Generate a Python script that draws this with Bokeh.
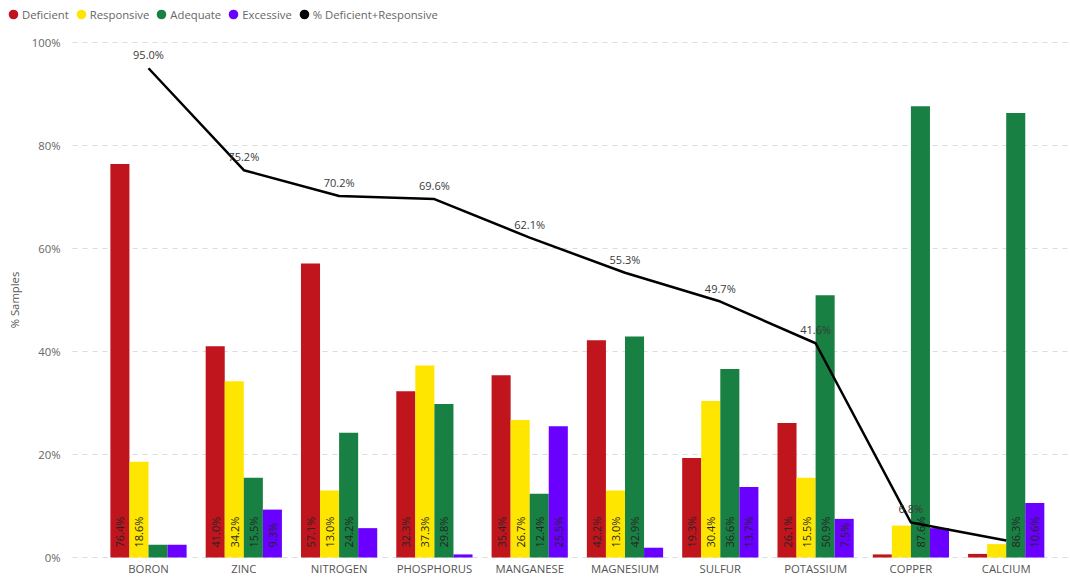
from bokeh.plotting import figure
from bokeh.models import ColumnDataSource, Range1d, Legend, LegendItem
from bokeh.transform import dodge
from bokeh.core.properties import value
from bokeh.embed import file_html
from bokeh.resources import INLINE
import math

nutrients = ["BORON", "ZINC", "NITROGEN", "PHOSPHORUS", "MANGANESE",
             "MAGNESIUM", "SULFUR", "POTASSIUM", "COPPER", "CALCIUM"]
deficient = [76.4, 41.0, 57.1, 32.3, 35.4, 42.2, 19.3, 26.1, 0.6, 0.7]
responsive = [18.6, 34.2, 13.0, 37.3, 26.7, 13.0, 30.4, 15.5, 6.2, 2.6]
adequate = [2.5, 15.5, 24.2, 29.8, 12.4, 42.9, 36.6, 50.9, 87.6, 86.3]
excessive = [2.5, 9.3, 5.7, 0.6, 25.5, 1.9, 13.7, 7.5, 5.7, 10.6]
def_resp = [95.0, 75.2, 70.2, 69.6, 62.1, 55.3, 49.7, 41.6, 6.8, 3.3]
def_resp_shown = [True, True, True, True, True, True, True, True, True, False]
y_ticks = [0, 20, 40, 60, 80, 100]
y_tick_labels = ["0%", "20%", "40%", "60%", "80%", "100%"]

series_names = ["Deficient", "Responsive", "Adequate", "Excessive"]
series_colors = ["#C1151D", "#FFE600", "#188042", "#6A00FF"]
series_values = [deficient, responsive, adequate, excessive]
offsets = [-0.3, -0.1, 0.1, 0.3]

FONT = "Open Sans"
W, H = 1070, 577
ZERO_PX = 557         # pixel row of the 0% gridline
TOP_PAD = 42          # pixel row of the 100% gridline
CAT_PX = 95.3         # pixels per category
FIRST_CENTER = 148    # pixel position of first category centre
AXIS_LEFT = 72        # pixel where the gridlines start
px_per_unit = (ZERO_PX - TOP_PAD) / 100.0
y_top = 100 + TOP_PAD / px_per_unit
y_bottom = -(H - ZERO_PX) / px_per_unit
x_start = -FIRST_CENTER / CAT_PX
x_end = (W - FIRST_CENTER) / CAT_PX
x_axis_left = (AXIS_LEFT - FIRST_CENTER) / CAT_PX

p = figure(width=W, height=H, output_backend="svg", toolbar_location=None,
           x_range=Range1d(x_start, x_end), y_range=Range1d(y_bottom, y_top),
           min_border_left=0, min_border_right=0, min_border_top=0,
           min_border_bottom=0)
p.outline_line_color = None
p.background_fill_color = "white"
p.border_fill_color = "white"
p.xaxis.visible = False
p.yaxis.visible = False
p.xgrid.grid_line_color = None
p.ygrid.grid_line_color = None

xs = list(range(len(nutrients)))

# dashed horizontal gridlines starting at the value-axis edge, with tick labels
gsrc = ColumnDataSource(dict(y=y_ticks, label=y_tick_labels,
                             x0=[x_axis_left] * len(y_ticks), x1=[x_end] * len(y_ticks)))
p.segment(x0="x0", x1="x1", y0="y", y1="y", source=gsrc,
          line_color="#dcdcdc", line_width=1, line_dash="5 5")
p.text(x="x0", y="y", text="label", source=gsrc, x_offset=-12,
       text_align="right", text_baseline="middle",
       text_font=value(FONT), text_font_size="11.3px", text_color="#666666")
p.text(x=[x_axis_left], y=[50], text=["% Samples"], x_offset=-58, angle=math.pi / 2,
       text_align="center", text_baseline="middle",
       text_font=value(FONT), text_font_size="11.3px", text_color="#555555")

for name, color, vals, off in zip(series_names, series_colors, series_values, offsets):
    labels = [f"{v:.1f}%" if v >= 7 else "" for v in vals]
    src = ColumnDataSource(dict(x=xs, top=vals, label=labels))
    p.vbar(x=dodge("x", off, range=p.x_range), top="top", width=0.2, bottom=0,
           source=src, fill_color=color, line_color=None)
    p.text(x=dodge("x", off, range=p.x_range), y=0, text="label", source=src,
           angle=math.pi / 2, y_offset=-10, text_align="left", text_baseline="middle",
           text_font=value(FONT), text_font_size="11px", text_color="#252423")

line_labels = [f"{v:.1f}%" if s else "" for v, s in zip(def_resp, def_resp_shown)]
lsrc = ColumnDataSource(dict(x=xs, y=def_resp, label=line_labels))
p.line(x="x", y="y", source=lsrc, line_color="black", line_width=2.5)
p.text(x="x", y="y", text="label", source=lsrc, y_offset=-6,
       text_align="center", text_baseline="bottom",
       text_font=value(FONT), text_font_size="11px", text_color="#3a3a3a")

# category labels
csrc = ColumnDataSource(dict(x=xs, y=[0] * len(xs), label=nutrients))
p.text(x="x", y="y", text="label", source=csrc, y_offset=3,
       text_align="center", text_baseline="top",
       text_font=value(FONT), text_font_size="11.3px", text_color="#555555")

# legend (circle markers, hidden renderers carry the glyph styles)
items = []
legend_series = list(zip(series_names, series_colors, series_values))
legend_series.append(("% Deficient+Responsive", "black", def_resp))
for name, color, vals in legend_series:
    r = p.scatter(x=xs, y=vals, marker="circle", size=8, fill_color=color,
                  line_color=color, line_width=4, visible=False)
    items.append(LegendItem(label=name, renderers=[r]))
legend = Legend(items=items, orientation="horizontal", location="top_left",
                glyph_width=14, glyph_height=16, label_standoff=2, spacing=5,
                padding=0, margin=6, border_line_color=None,
                background_fill_alpha=0,
                label_text_font=FONT, label_text_font_size="11.3px",
                label_text_color="#666666", label_height=14)
p.add_layout(legend, "center")

open("out.html", "w").write(file_html(p, INLINE))
